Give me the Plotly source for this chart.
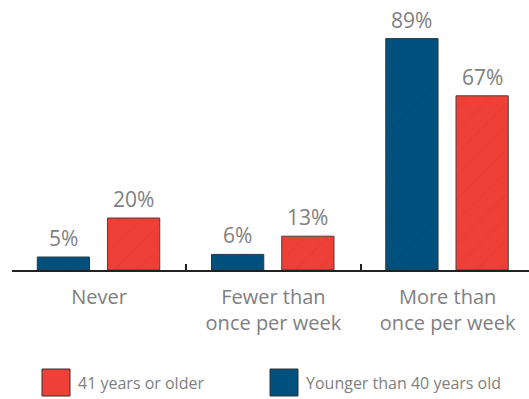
import plotly.graph_objects as go

categories = ["Never", "Fewer than<br>once per week", "More than<br>once per week"]
younger = [5, 6, 89]
older = [20, 13, 67]
younger_name = "Younger than 40 years old"
older_name = "41 years or older"

BLUE = "#02507e"
RED = "#ee4036"
GREY = "#808080"
FONT = "Open Sans, Lato, sans-serif"

BAR_W = 0.30
YOUNG_OFF = -0.355
OLD_OFF = 0.048

PLOT_LEFT, PLOT_W, PLOT_BOTTOM, PLOT_H = 12, 517, 270, 260

pattern = dict(shape="/", size=16, solidity=0.06, fgcolor="rgba(0,0,0,0.12)", fillmode="overlay")

fig = go.Figure()
fig.add_trace(go.Bar(
    x=categories, y=older, name=older_name,
    width=BAR_W, offset=OLD_OFF,
    marker=dict(color=RED, line=dict(color="#4a4040", width=1), pattern=pattern),
))
fig.add_trace(go.Bar(
    x=categories, y=younger, name=younger_name,
    width=BAR_W, offset=YOUNG_OFF,
    marker=dict(color=BLUE, line=dict(color="#2a3a44", width=1), pattern=pattern),
))

# Value labels above each bar
for i, (yv, ov) in enumerate(zip(younger, older)):
    for val, off in ((yv, YOUNG_OFF), (ov, OLD_OFF)):
        fig.add_annotation(x=i + off + BAR_W / 2, y=val, xref="x", yref="y",
                           text=f"{val}%", showarrow=False, yanchor="bottom", yshift=3,
                           font=dict(family=FONT, size=21, color=GREY))

# Legend drawn as swatches with text beside them
def px_x(px):
    return (px - PLOT_LEFT) / PLOT_W


def px_y(py):
    return (PLOT_BOTTOM - py) / PLOT_H


legend_items = [(older_name, RED, 42), (younger_name, BLUE, 270)]
for label, color, x0 in legend_items:
    fig.add_shape(type="rect", xref="paper", yref="paper",
                  x0=px_x(x0), x1=px_x(x0 + 28),
                  y0=px_y(369), y1=px_y(396),
                  fillcolor=color, line=dict(color="#333333", width=1))
    fig.add_annotation(xref="paper", yref="paper",
                       x=px_x(x0 + 34), y=px_y(383),
                       text=label, showarrow=False, xanchor="left", yanchor="middle",
                       font=dict(family=FONT, size=16, color=GREY))

fig.update_layout(
    width=529, height=399,
    margin=dict(l=PLOT_LEFT, r=0, t=10, b=399 - 10 - PLOT_H),
    paper_bgcolor="white", plot_bgcolor="white",
    showlegend=False,
    font=dict(family=FONT, color=GREY),
    xaxis=dict(
        type="category", range=[-0.5, 2.467],
        showline=True, linecolor="#222222", linewidth=2,
        ticks="inside", tickson="boundaries", ticklen=6, tickwidth=2, tickcolor="#222222",
        tickfont=dict(family=FONT, size=20, color=GREY),
        ticklabelstandoff=8,
        showgrid=False,
    ),
    yaxis=dict(range=[0, 100], visible=False, showgrid=False),
)

fig.write_html("out.html")
